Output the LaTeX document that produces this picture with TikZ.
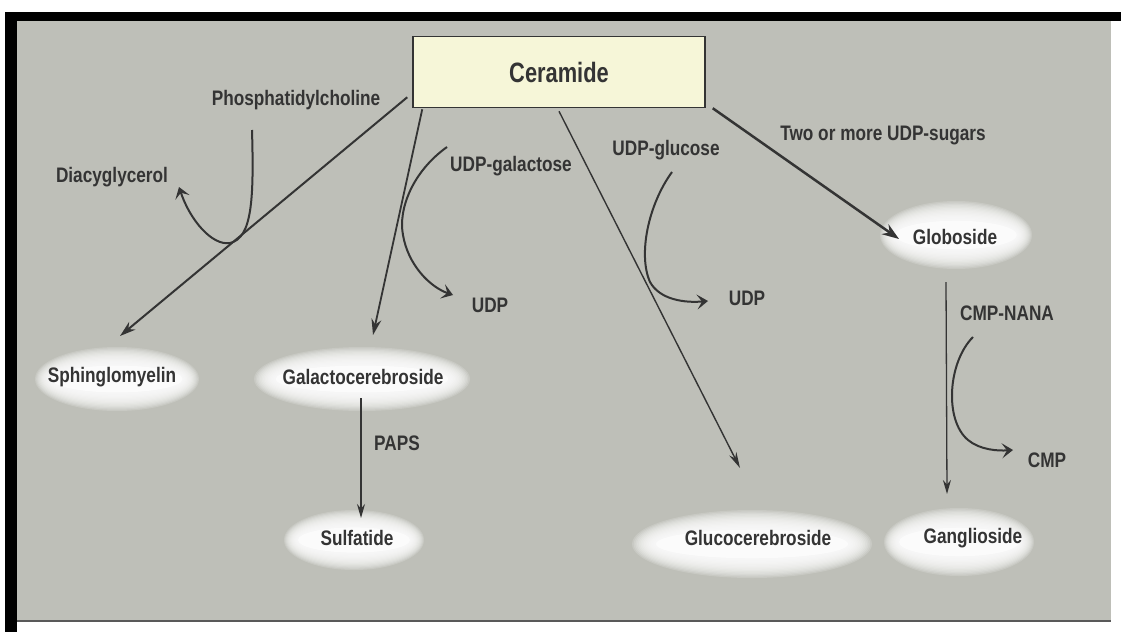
\documentclass[tikz,border=0pt]{standalone}
\usepackage{fontspec}
\newfontfamily\labfont[FakeStretch=0.82]{Liberation Sans}
\newfontfamily\cerfont[FakeStretch=0.78]{Liberation Sans}
\usetikzlibrary{arrows.meta,calc}
\definecolor{bggray}{RGB}{190,191,184}
\definecolor{ink}{RGB}{52,52,52}
\definecolor{boxfill}{RGB}{246,246,216}
\newcommand{\glowat}[4]{%
  \foreach \i in {0,...,13}{%
    \fill[white, fill opacity=0.16] (#1,#2) ellipse ({#3*(1-0.014*\i)} and {#4*(1-0.04*\i)});
  }%
  \fill[white, fill opacity=0.6] (#1,#2) ellipse ({#3*0.8} and {#4*0.42});
}
\begin{document}
\begin{tikzpicture}[x=1pt,y=-1pt,
  lab/.style={font=\labfont\bfseries\fontsize{21}{25}\selectfont, text=ink, inner sep=2pt},
  arr/.style={draw=ink, line width=2pt, -{Stealth[length=16pt,width=10pt]}},
  thinarr/.style={draw=ink, line width=1.3pt, -{Stealth[length=14pt,width=8pt]}},
  bendarr/.style={draw=ink, line width=2pt, -{Stealth[length=11pt,width=15pt,inset=5pt]}}]
\useasboundingbox (0,0) rectangle (1121,632);
% frame and background
\fill[white] (0,0) rectangle (1121,632);
\fill[black] (7,12) rectangle (1121,21);
\fill[black] (5,12) rectangle (17,632);
\fill[bggray] (17,21) rectangle (1111,622);
\draw[line width=1.5pt, black!65] (17,621) -- (1111,621);
% glows
\glowat{117}{379}{82}{32}
\glowat{362}{379}{108}{32}
\glowat{354}{540}{70}{30}
\glowat{752}{544}{120}{34}
\glowat{959}{542}{75}{34}
\glowat{956}{235}{76}{34}
% nodes
\node[draw=ink, line width=1.5pt, fill=boxfill, minimum width=292pt, minimum height=71pt,
      font=\cerfont\bfseries\fontsize{28}{32}\selectfont, text=ink] (cer) at (559,72) {Ceramide};
\node[lab] (phos) at (296,100) {Phosphatidylcholine};
\node[lab] (diac) at (112,177) {Diacyglycerol};
\node[lab] (udpgal) at (511,166) {UDP-galactose};
\node[lab] (udpL) at (490,305) {UDP};
\node[lab] (udpglc) at (666,150) {UDP-glucose};
\node[lab] (udpR) at (747,298) {UDP};
\node[lab] (sugars) at (883,135) {Two or more UDP-sugars};
\node[lab] (glob) at (955,237) {Globoside};
\node[lab] (nana) at (1007,313) {CMP-NANA};
\node[lab] (cmp) at (1047,460) {CMP};
\node[lab] (sph) at (112,377) {Sphinglomyelin};
\node[lab] (gal) at (363,377) {Galactocerebroside};
\node[lab] (paps) at (397,443) {PAPS};
\node[lab] (sulf) at (357,538) {Sulfatide};
\node[lab] (glc) at (758,538) {Glucocerebroside};
\node[lab] (gang) at (973,538) {Ganglioside};
% connector end points
\coordinate (sphS) at ($(cer.south west)+(-5,-11)$);
\coordinate (sphT) at ($(sph)+(8,-41)$);
\coordinate (galS) at ($(cer.south west)+(10,1)$);
\coordinate (galT) at ($(gal)+(10,-42)$);
\coordinate (glcS) at ($(cer.south)+(0,3)$);
\coordinate (glcT) at ($(glc)+(-18,-70)$);
\coordinate (globS) at ($(cer.south east)+(7,0)$);
\coordinate (globT) at ($(glob)+(-56,2)$);
\coordinate (gangS) at ($(glob)+(-9,45)$);
\coordinate (gangT) at ($(gang)+(-26,-44)$);
\coordinate (sulfS) at ($(gal)+(-2,21)$);
\coordinate (sulfT) at ($(sulf)+(4,-20)$);
\coordinate (pcS) at ($(phos)+(-44,30)$);
\coordinate (dgT) at ($(diac)+(67,10)$);
\coordinate (ugS) at ($(udpgal)+(-64,-19)$);
\coordinate (ugT) at ($(udpL)+(-37,-10)$);
\coordinate (ucS) at ($(udpglc)+(6,22)$);
\coordinate (ucT) at ($(udpR)+(-39,3)$);
\coordinate (cnS) at ($(nana)+(-34,24)$);
\coordinate (cnT) at ($(cmp)+(-34,-10)$);
% main connectors
\draw[arr] (sphS) -- (sphT);
\draw[arr, line width=1.8pt] (galS) -- (galT);
\draw[arr, line width=1.4pt, -{Stealth[length=16pt,width=8pt]}] (glcS) -- (glcT);
\draw[arr, line width=2.5pt, -{Stealth[length=17pt,width=12pt]}] (globS) -- (globT);
\draw[thinarr] (gangS) -- (gangT);
\draw[thinarr] (sulfS) -- (sulfT);
% curved side reactions
\draw[bendarr] (pcS) .. controls (254,200) and (252,238) .. (230,243)
               .. controls (212,246) and (190,220) .. (dgT);
\draw[bendarr] (ugS) .. controls (412,172) and (398,210) .. (403,235)
               .. controls (408,265) and (430,287) .. (ugT);
\draw[bendarr] (ucS) .. controls (648,205) and (638,255) .. (650,282)
               .. controls (660,300) and (685,303) .. (ucT);
\draw[bendarr] (cnS) .. controls (948,362) and (944,420) .. (968,440)
               .. controls (980,450) and (998,451) .. (cnT);
\end{tikzpicture}
\end{document}
